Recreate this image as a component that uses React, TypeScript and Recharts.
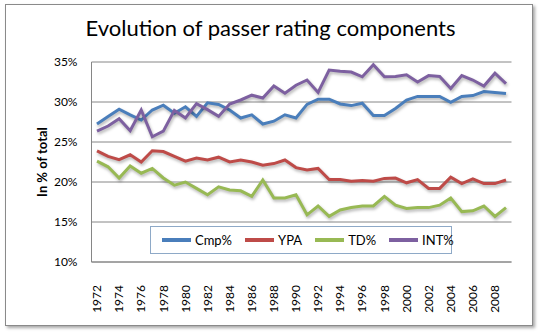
import React from 'react';
import { LineChart, Line, XAxis, YAxis, CartesianGrid, Legend } from 'recharts';

const years = ['1972','1973','1974','1975','1976','1977','1978','1979','1980','1981','1982','1983','1984','1985','1986','1987','1988','1989','1990','1991','1992','1993','1994','1995','1996','1997','1998','1999','2000','2001','2002','2003','2004','2005','2006','2007','2008','2009'];
const cmpPct = [27.25, 28.2, 29.1, 28.4, 27.75, 29.0, 29.6, 28.6, 29.4, 28.2, 29.9, 29.7, 29.0, 28.0, 28.4, 27.25, 27.6, 28.4, 28.0, 29.7, 30.35, 30.35, 29.75, 29.55, 29.85, 28.3, 28.3, 29.2, 30.25, 30.7, 30.7, 30.7, 29.95, 30.7, 30.8, 31.3, 31.2, 31.05];
const ypa = [23.9, 23.2, 22.8, 23.4, 22.5, 23.9, 23.8, 23.2, 22.6, 23.0, 22.75, 23.1, 22.5, 22.75, 22.5, 22.1, 22.3, 22.75, 21.8, 21.5, 21.7, 20.3, 20.3, 20.1, 20.2, 20.1, 20.45, 20.5, 19.9, 20.3, 19.2, 19.2, 20.6, 19.8, 20.4, 19.8, 19.8, 20.25];
const tdPct = [22.6, 21.9, 20.5, 22.0, 21.1, 21.7, 20.5, 19.6, 20.0, 19.2, 18.4, 19.4, 19.0, 18.9, 18.2, 20.25, 18.0, 18.0, 18.4, 15.9, 17.0, 15.7, 16.5, 16.8, 17.0, 17.0, 18.2, 17.1, 16.7, 16.8, 16.8, 17.1, 18.0, 16.3, 16.4, 17.0, 15.7, 16.8];
const intPct = [26.35, 27.0, 27.9, 26.4, 29.0, 25.65, 26.35, 28.95, 28.0, 29.8, 29.05, 28.2, 29.75, 30.25, 30.85, 30.5, 32.0, 31.1, 32.1, 32.75, 31.2, 34.0, 33.85, 33.75, 33.15, 34.65, 33.15, 33.2, 33.4, 32.5, 33.3, 33.2, 31.7, 33.3, 32.75, 32.0, 33.6, 32.3];
const yTicks = [10, 15, 20, 25, 30, 35];

const seriesNames = ['Cmp%', 'YPA', 'TD%', 'INT%'];
const seriesColors = ['#4A7EBB', '#BE4B48', '#98B954', '#7D60A0'];
const seriesValues = [cmpPct, ypa, tdPct, intPct];

const data = years.map((y, i) => {
  const row: any = { year: y };
  seriesNames.forEach((n, k) => { row[n] = seriesValues[k][i]; });
  return row;
});

const FONT = 'Lato, "Open Sans", sans-serif';

const XTick = (props: any) => {
  const { x, y, payload } = props;
  return (
    <text x={x} y={y + 15} transform={`rotate(-90 ${x} ${y + 15})`} textAnchor="end" dy="0.35em" fontSize={12} fill="#000" fontFamily={FONT}>
      {payload.value}
    </text>
  );
};

const LegendContent = () => (
  <div style={{ display: 'flex', alignItems: 'center', height: '100%', paddingLeft: 11, boxSizing: 'border-box', fontFamily: FONT, fontSize: 13 }}>
    {seriesNames.map((n, k) => (
      <div key={n} style={{ display: 'flex', alignItems: 'center', marginRight: 13 }}>
        <div style={{ width: 29, height: 4, background: seriesColors[k], marginRight: 4 }} />
        <span style={{ color: '#000' }}>{n}</span>
      </div>
    ))}
  </div>
);

export default function App() {
  return (
    <div style={{ position: 'absolute', left: 0, top: 0, width: 541, height: 333, background: '#fff', overflow: 'hidden' }}>
      <style>{`.recharts-line-curve { filter: drop-shadow(1.5px 2px 1.5px rgba(0,0,0,0.3)); }`}</style>
      <div style={{ position: 'absolute', left: 5, top: 4, width: 526, height: 320, border: '1px solid #8a8a8a', boxShadow: '2px 2px 3px rgba(0,0,0,0.35)', background: '#fff' }} />
      <div style={{ position: 'absolute', left: 0, top: 14, width: 541, textAlign: 'center', fontFamily: FONT, fontSize: 22, color: '#000' }}>
        Evolution of passer rating components
      </div>
      <div style={{ position: 'absolute', left: 0, top: 0 }}>
        <LineChart width={541} height={333} data={data} margin={{ top: 62, right: 29.5, left: 51.5, bottom: 26 }}>
          <CartesianGrid horizontal={true} vertical={false} stroke="#868686" />
          <XAxis dataKey="year" interval={1} height={45} tickLine={false} axisLine={{ stroke: '#868686' }} padding={{ left: 5.5, right: 5.5 }} tick={<XTick />} />
          <YAxis
            domain={[10, 35]}
            ticks={yTicks}
            width={40}
            tickLine={false}
            axisLine={{ stroke: '#868686' }}
            tickMargin={8}
            tickFormatter={(v: number) => `${v}%`}
            tick={{ fontSize: 12, fill: '#000', fontFamily: FONT }}
            label={{
              content: () => (
                <text x={42} y={162} transform="rotate(-90 42 162)" textAnchor="middle" dy="0.35em" fontSize={13} fontWeight="bold" fill="#000" fontFamily={FONT}>
                  In % of total
                </text>
              ),
            }}
          />
          <Legend
            layout="horizontal"
            verticalAlign="middle"
            align="center"
            content={<LegendContent />}
            wrapperStyle={{ position: 'absolute', left: 150, top: 226, width: 302, height: 28, border: '1px solid #8ea9c7', background: '#fff', boxSizing: 'border-box' }}
          />
          {seriesNames.map((n, k) => (
            <Line key={n} type="linear" dataKey={n} stroke={seriesColors[k]} strokeWidth={3} dot={false} isAnimationActive={false} />
          ))}
        </LineChart>
      </div>
    </div>
  );
}
